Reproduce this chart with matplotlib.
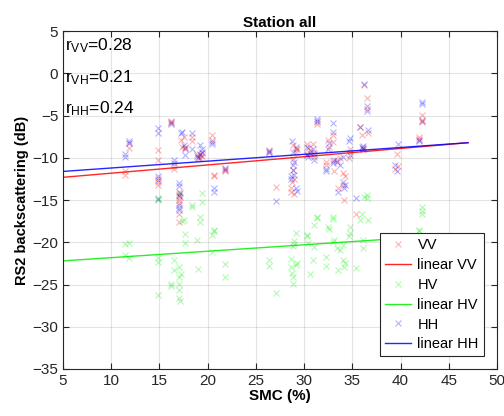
import numpy as np
import matplotlib
matplotlib.use('Agg')
from matplotlib import pyplot

pyplot.rcParams['font.family'] = ['Liberation Sans', 'DejaVu Sans']
pyplot.rcParams['mathtext.fontset'] = 'custom'
pyplot.rcParams['mathtext.rm'] = 'Liberation Sans'
pyplot.rcParams['mathtext.it'] = 'Liberation Sans'

smc = [11.4, 11.4, 11.8, 11.8,
       14.9, 14.9, 14.9, 14.9, 14.9,
       16.2, 16.2, 16.5, 16.5,
       17.0, 17.0, 17.0, 17.0, 17.0, 17.0, 17.1,
       17.2, 17.3, 17.5, 17.6, 17.6,
       18.4, 18.4, 18.9, 19.0, 19.2, 19.2, 19.4, 19.4,
       20.5, 20.5, 20.7, 20.7, 21.8, 21.8,
       26.4, 26.4, 27.1,
       28.6, 28.6, 28.7, 28.8, 28.8, 28.9, 29.0, 29.0, 29.2, 29.2, 29.3,
       30.3, 30.4, 30.6, 30.3, 30.9, 31.0, 31.0, 31.3, 31.3,
       32.3, 32.3, 32.5, 32.6, 33.0, 33.0, 33.1, 33.0,
       33.4, 33.5, 33.7, 34.0, 34.0, 34.1, 34.2,
       34.8, 34.8, 34.7, 35.4, 35.8, 36.0, 36.1, 36.1, 36.2,
       36.5, 36.5, 36.6, 39.4, 39.6, 39.7, 41.9, 41.9, 42.2, 42.2, 42.2]
vv = [-12.0, -11.6, -8.8, -8.2,
      -9.1, -10.3, -12.4, -13.2, -12.8,
      -5.6, -5.9, -11.3, -11.0,
      -14.0, -14.4, -15.0, -16.6, -17.6, -15.3, -14.6,
      -7.9, -8.7, -7.5, -8.7, -9.0,
      -7.5, -8.0, -9.5, -9.9, -9.7, -10.0, -9.4, -9.8,
      -7.3, -7.9, -12.0, -12.2, -11.3, -11.5,
      -9.1, -9.4, -13.5,
      -13.6, -14.1, -12.8, -8.5, -11.4, -10.1, -12.5, -14.3, -8.9, -9.3, -9.0,
      -8.3, -8.8, -9.1, -9.6, -8.3, -9.9, -9.3, -5.8, -6.0,
      -10.5, -10.8, -7.9, -8.7, -7.3, -8.1, -11.6, -10.4,
      -10.3, -13.6, -10.0, -11.8, -13.2, -15.0, -12.2,
      -8.9, -9.3, -10.0, -16.6, -6.4, -7.3, -8.9, -9.0, -1.4,
      -2.9, -4.2, -7.1, -11.3, -9.5, -11.0, -7.5, -7.8, -4.9, -5.5, -5.8]
hv = [-20.2, -21.5, -20.1, -21.9,
      -14.8, -21.9, -22.3, -26.2, -15.0,
      -24.9, -25.2, -22.1, -23.3,
      -14.3, -22.9, -24.1, -24.9, -25.7, -26.6, -26.9,
      -23.7, -17.5, -17.4, -19.0, -20.1,
      -15.6, -15.8, -19.7, -23.2, -17.0, -17.6, -14.2, -15.2,
      -19.1, -21.1, -18.5, -18.7, -22.6, -24.1,
      -22.1, -22.8, -26.0,
      -22.0, -22.9, -23.6, -24.1, -24.9, -20.4, -19.9, -20.2, -22.7, -18.9, -22.5,
      -19.1, -20.1, -23.7, -19.3, -22.1, -20.5, -18.0, -17.0, -17.1,
      -21.7, -22.8, -18.2, -18.4, -17.0, -17.2, -19.7, -20.0,
      -20.7, -23.3, -20.9, -20.3, -22.1, -22.9, -22.4,
      -18.2, -18.9, -19.3, -23.1, -17.4, -16.6, -19.7, -20.7, -14.6,
      -14.7, -14.4, -17.4, -21.0, -20.6, -21.3, -18.5, -18.7, -15.8, -16.6, -16.3]
hh = [-9.5, -9.9, -8.0, -8.2,
      -6.5, -7.1, -12.2, -12.6, -14.9,
      -5.8, -6.0, -10.3, -10.6,
      -13.0, -13.3, -15.6, -16.2, -14.5, -15.9, -14.2,
      -7.1, -6.9, -8.5, -9.7, -8.8,
      -7.0, -8.9, -9.8, -10.0, -8.5, -9.5, -8.9, -9.3,
      -8.1, -8.3, -13.6, -14.0, -11.2, -11.4,
      -9.3, -9.2, -15.1,
      -12.2, -12.5, -8.0, -10.8, -11.4, -9.3, -12.0, -10.5, -8.7, -13.6, -13.9,
      -8.7, -9.9, -9.4, -9.7, -8.9, -10.3, -9.6, -5.4, -5.6,
      -11.5, -11.3, -8.9, -8.2, -5.9, -6.9, -10.3, -10.6,
      -10.5, -14.0, -10.8, -9.9, -12.8, -13.6, -13.2,
      -7.7, -9.7, -8.0, -14.8, -6.3, -8.7, -8.8, -8.6, -1.3,
      -3.9, -4.5, -6.7, -10.9, -11.6, -8.4, -7.9, -8.0, -3.4, -3.6, -5.6]

# linear fits (slope, intercept) and their range
fit_range = [5, 47]
fit_vv = (0.0976, -12.79)
fit_hv = (0.0762, -22.58)
fit_hh = (0.0810, -12.01)
r_labels = ['VV', 'VH', 'HH']
r_values = [0.28, 0.21, 0.24]

fig = pyplot.figure(figsize=(5.04, 4.16), dpi=100)
ax = fig.add_axes([0.125, 0.113, 0.861, 0.812])

xf = np.array(fit_range, dtype=float)
series = [('VV', vv, fit_vv, '#ff0000'),
          ('HV', hv, fit_hv, '#00ee00'),
          ('HH', hh, fit_hh, '#0000ff')]
for name, vals, fit, col in series:
    ax.plot(smc, vals, 'x', color=col, alpha=0.3, markersize=5, mew=0.8, label=name)
    ax.plot(xf, fit[0] * xf + fit[1], '-', color=col, alpha=0.85, lw=1.0, label='linear ' + name)

for i, (lab, val) in enumerate(zip(r_labels, r_values)):
    ax.text(0.005, 0.985 - i * 0.094, 'r$_{\\mathrm{%s}}$=%.2f' % (lab, val),
            transform=ax.transAxes, va='top', ha='left', fontsize=12.5)

ax.set_xlim(5, 50)
ax.set_ylim(-35, 5)
ax.set_xticks(range(5, 51, 5))
ax.set_yticks(range(-35, 6, 5))
ax.grid(True, color='#262626', alpha=0.12, lw=0.8)
ax.tick_params(direction='in', top=True, right=True, labelsize=11, length=4,
               color='#262626', labelcolor='#262626')
for s in ax.spines.values():
    s.set_color('#262626')
    s.set_linewidth(0.8)
ax.set_title('Station all', fontsize=11, fontweight='bold', pad=3)
ax.set_xlabel('SMC (%)', fontsize=11, fontweight='bold', labelpad=1)
ax.set_ylabel('RS2 backscattering (dB)', fontsize=10.5, fontweight='bold', labelpad=2)
leg = ax.legend(loc='lower right', fontsize=10.5, fancybox=False, framealpha=1,
                edgecolor='#262626', borderaxespad=0.0, bbox_to_anchor=(0.97, 0.037),
                handlelength=1.8, handletextpad=0.45, labelspacing=0.4, borderpad=0.35)
leg.get_frame().set_linewidth(0.8)

fig.savefig('out.png', dpi=100)
